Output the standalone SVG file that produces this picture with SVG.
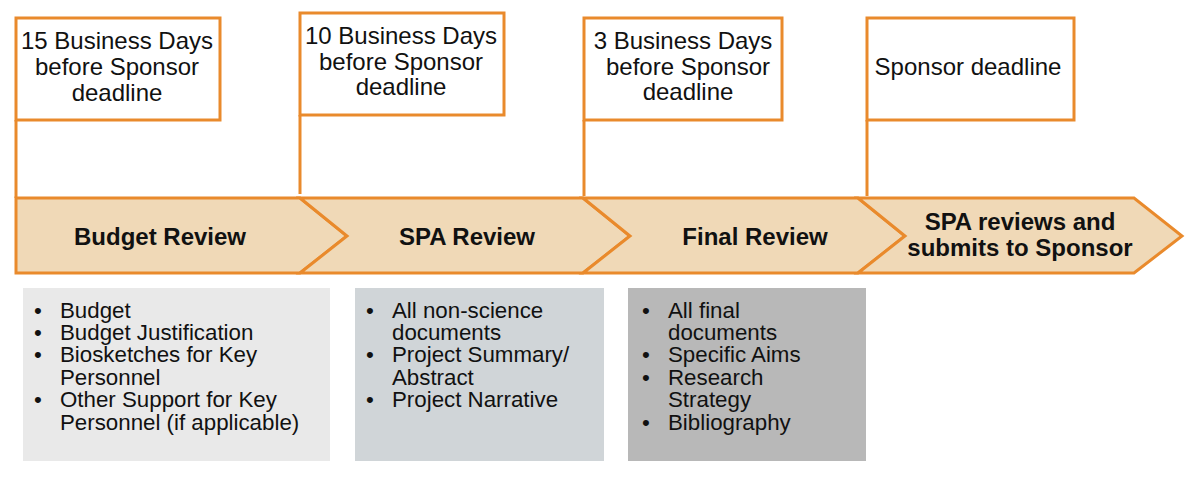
<svg xmlns="http://www.w3.org/2000/svg" width="1200" height="479" viewBox="0 0 1200 479">
<style>
.o{fill:none;stroke:#E98A2C;stroke-width:3}
.box{fill:#fff;stroke:#E98A2C;stroke-width:3}
.chev{fill:#F0D9B7;stroke:#E98A2C;stroke-width:3;stroke-linejoin:miter}
.t{font-family:"Liberation Sans",Arial,sans-serif;font-size:24px;fill:#111;text-anchor:middle}
.b{font-family:"Liberation Sans",Arial,sans-serif;font-size:24px;font-weight:bold;fill:#111;text-anchor:middle}
.l{font-family:"Liberation Sans",Arial,sans-serif;font-size:22.3px;fill:#111}
</style>
<rect width="1200" height="479" fill="#fff"/>
<g id="connectors">
<line class="o" x1="16" y1="120" x2="16" y2="198"/>
<line class="o" x1="300" y1="115" x2="300" y2="194"/>
<line class="o" x1="584" y1="120" x2="584" y2="196"/>
<line class="o" x1="867" y1="120" x2="867" y2="196"/>
</g>
<g id="m1"><rect class="box" x="16" y="18" width="204" height="102"/>
<text class="t" x="117" y="49">15 Business Days</text><text class="t" x="117" y="75">before Sponsor</text><text class="t" x="117" y="101">deadline</text></g>
<g id="m2"><rect class="box" x="300" y="13" width="204" height="102"/>
<text class="t" x="401" y="44">10 Business Days</text><text class="t" x="401" y="70">before Sponsor</text><text class="t" x="401" y="95">deadline</text></g>
<g id="m3"><rect class="box" x="584" y="18" width="198" height="102"/>
<text class="t" x="683" y="49">3 Business Days</text><text class="t" x="688" y="75">before Sponsor</text><text class="t" x="688" y="100">deadline</text></g>
<g id="m4"><rect class="box" x="867" y="18" width="207" height="102"/>
<text class="t" x="968" y="75">Sponsor deadline</text></g>
<g id="p1"><polygon class="chev" points="16,198 300,198 347,236 300,273 16,273"/>
<text class="b" x="160" y="245">Budget Review</text></g>
<g id="p2"><polygon class="chev" points="300,198 583,198 630,236 583,273 300,273 347,236"/>
<text class="b" x="467" y="245">SPA Review</text></g>
<g id="p3"><polygon class="chev" points="583,198 858,198 905,236 858,273 583,273 630,236"/>
<text class="b" x="755" y="245">Final Review</text></g>
<g id="p4"><polygon class="chev" points="858,198 1134,198 1182,236 1134,273 858,273 905,236"/>
<text class="b" x="1020" y="230">SPA reviews and</text><text class="b" x="1020" y="256">submits to Sponsor</text></g>
<g id="l1"><rect x="23" y="288" width="307" height="173" fill="#E9E9E9"/>
<g class="l"><text x="34" y="318">•</text><text x="60" y="318">Budget</text>
<text x="34" y="340">•</text><text x="60" y="340">Budget Justification</text>
<text x="34" y="362">•</text><text x="60" y="362">Biosketches for Key</text>
<text x="60" y="385">Personnel</text>
<text x="34" y="407">•</text><text x="60" y="407">Other Support for Key</text>
<text x="60" y="430">Personnel (if applicable)</text></g></g>
<g id="l2"><rect x="355" y="288" width="249" height="173" fill="#D0D5D8"/>
<g class="l"><text x="366" y="318">•</text><text x="392" y="318">All non-science</text>
<text x="392" y="340">documents</text>
<text x="366" y="362">•</text><text x="392" y="362">Project Summary/</text>
<text x="392" y="385">Abstract</text>
<text x="366" y="407">•</text><text x="392" y="407">Project Narrative</text></g></g>
<g id="l3"><rect x="628" y="288" width="238" height="173" fill="#B8B8B8"/>
<g class="l"><text x="642" y="318">•</text><text x="668" y="318">All final</text>
<text x="668" y="340">documents</text>
<text x="642" y="362">•</text><text x="668" y="362">Specific Aims</text>
<text x="642" y="385">•</text><text x="668" y="385">Research</text>
<text x="668" y="407">Strategy</text>
<text x="642" y="430">•</text><text x="668" y="430">Bibliography</text></g></g>
</svg>
